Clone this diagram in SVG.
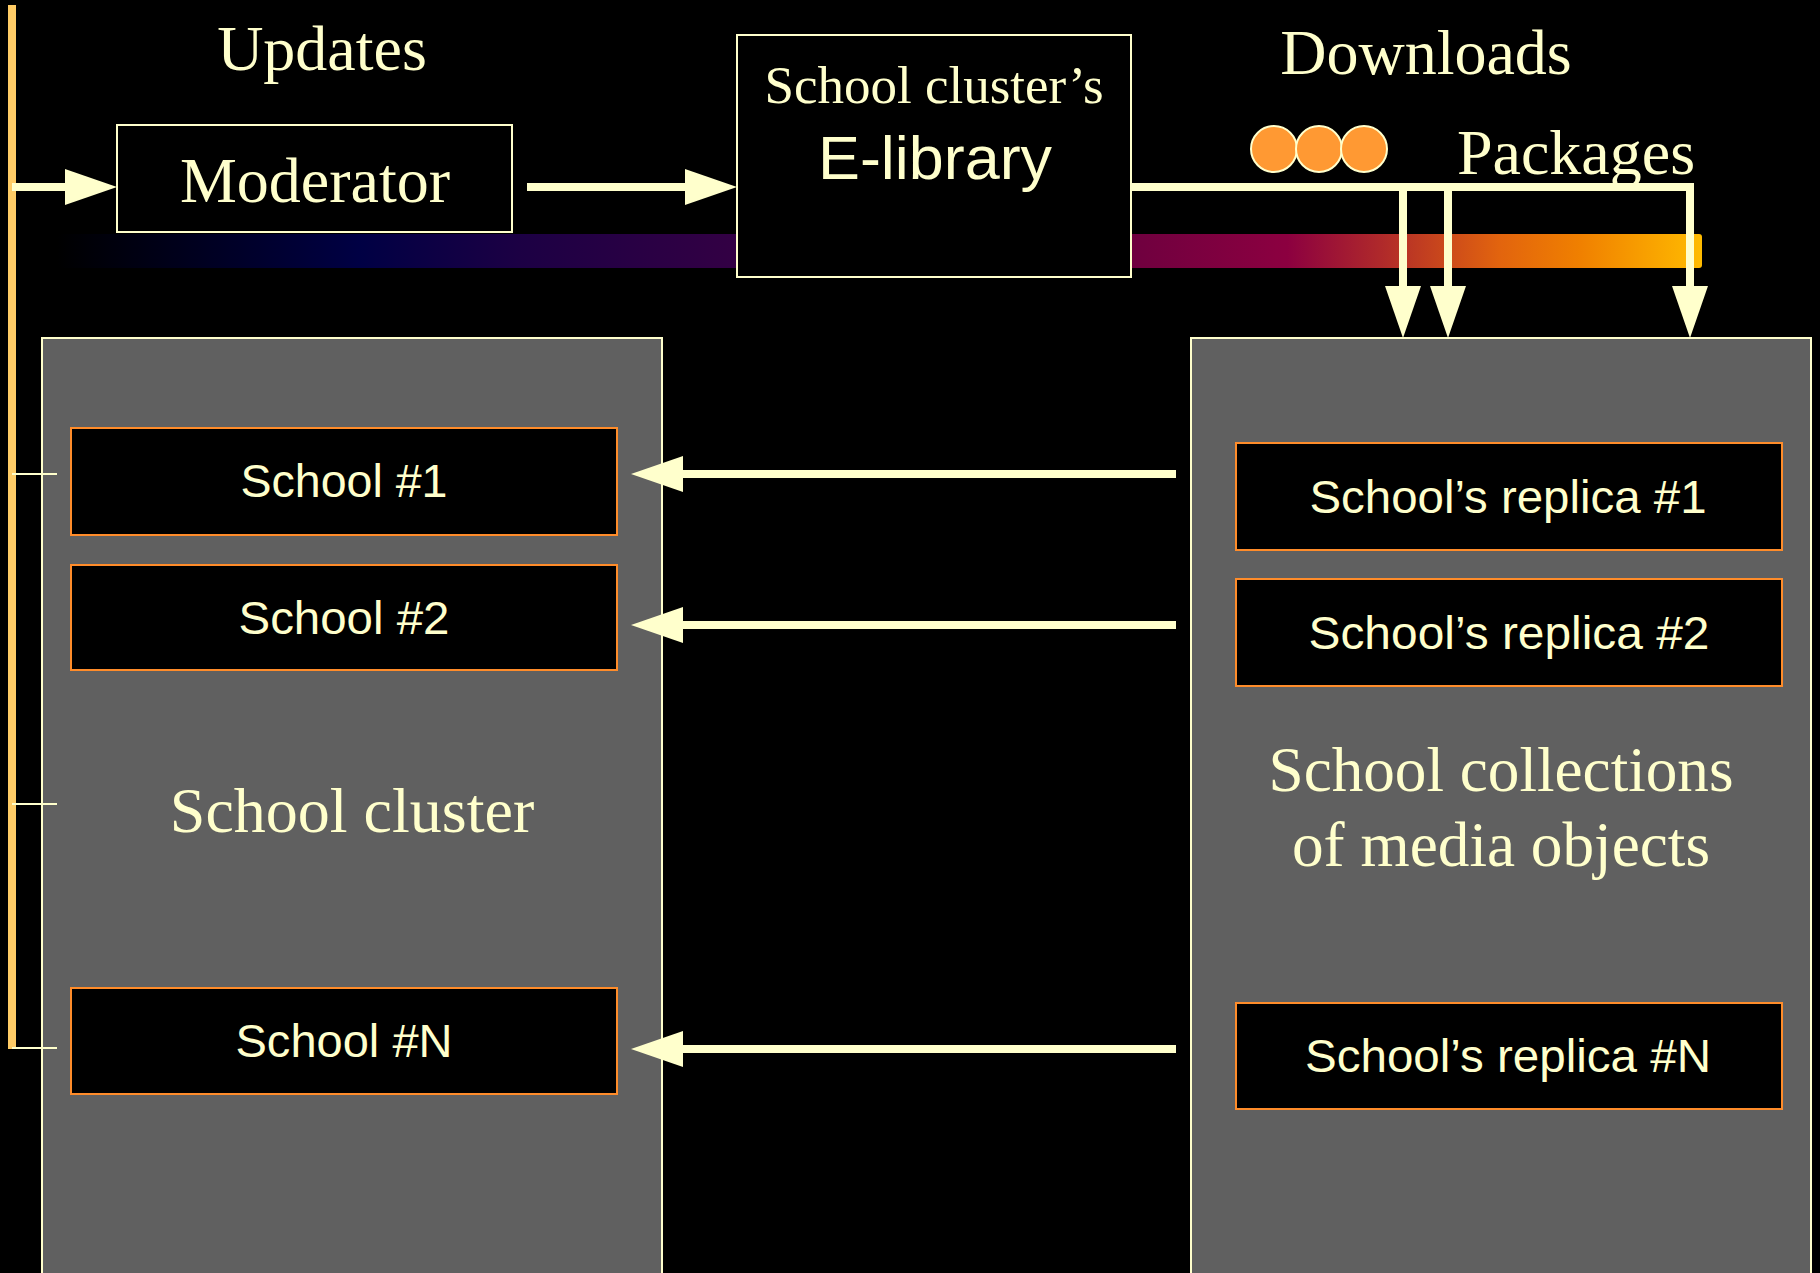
<svg xmlns="http://www.w3.org/2000/svg" width="1820" height="1273" viewBox="0 0 1820 1273">
  <defs>
    <linearGradient id="band" gradientUnits="userSpaceOnUse" x1="57" y1="0" x2="1702" y2="0">
      <stop offset="0" stop-color="#000000"/>
      <stop offset="0.184" stop-color="#000044"/>
      <stop offset="0.281" stop-color="#1c0044"/>
      <stop offset="0.412" stop-color="#330044"/>
      <stop offset="0.654" stop-color="#6f003f"/>
      <stop offset="0.748" stop-color="#8c0040"/>
      <stop offset="0.806" stop-color="#b02a2a"/>
      <stop offset="0.877" stop-color="#e2640e"/>
      <stop offset="0.926" stop-color="#f08000"/>
      <stop offset="1" stop-color="#ffbb00"/>
    </linearGradient>
    <marker id="arrow" viewBox="0 -18 52 36" refX="0" refY="0" markerWidth="52" markerHeight="36" markerUnits="userSpaceOnUse" orient="auto">
      <path d="M0,-18 L52,0 L0,18 Z" fill="#FFFFCC"/>
    </marker>
  </defs>
  <style>
    .bg { fill: #000000; }
    .serif { font-family: "Liberation Serif", "Times New Roman", serif; fill: #FFFFCC; }
    .sans { font-family: "Liberation Sans", Arial, sans-serif; fill: #FFFFCC; }
    .topbox { fill: #000000; stroke: #FFFFCC; stroke-width: 2; }
    .panel { fill: #606060; stroke: #FFFFCC; stroke-width: 2; }
    .item { fill: #000000; stroke: #FF8C2A; stroke-width: 2; }
    .conn { fill: none; stroke: #FFFFCC; stroke-width: 8; stroke-linejoin: miter; }
    .tick { fill: none; stroke: #FFFFCC; stroke-width: 2; }
  </style>
  <rect class="bg" x="0" y="0" width="1820" height="1273"/>

  <!-- colour band -->
  <rect x="57" y="234" width="1645" height="34" rx="3" fill="url(#band)"/>

  <text class="serif" x="322" y="70" font-size="64" text-anchor="middle">Updates</text>
  <text class="serif" x="1426" y="74" font-size="64" text-anchor="middle">Downloads</text>
  <text class="serif" x="1576" y="174" font-size="64" text-anchor="middle">Packages</text>

  <g id="packages-icon">
    <circle cx="1274" cy="149" r="23" fill="#FF9933" stroke="#FFFFCC" stroke-width="2"/>
    <circle cx="1319" cy="149" r="23" fill="#FF9933" stroke="#FFFFCC" stroke-width="2"/>
    <circle cx="1364" cy="149" r="23" fill="#FF9933" stroke="#FFFFCC" stroke-width="2"/>
  </g>

  <g id="panel-cluster">
    <rect class="panel" x="42" y="338" width="620" height="945"/>
    <text class="serif" x="352" y="832" font-size="64" text-anchor="middle">School cluster</text>
  </g>

  <g id="panel-collections">
    <rect class="panel" x="1191" y="338" width="620" height="945"/>
    <text class="serif" x="1501" y="791" font-size="64" text-anchor="middle" textLength="465" lengthAdjust="spacingAndGlyphs">School collections</text>
    <text class="serif" x="1501" y="866" font-size="64" text-anchor="middle" textLength="418" lengthAdjust="spacingAndGlyphs">of media objects</text>
  </g>

  <!-- left timeline bar -->
  <g id="timeline">
    <rect x="8" y="5" width="8" height="1044" fill="#FFCC66"/>
    <path class="tick" d="M12 474 H57 M12 804 H57 M12 1048 H57"/>
  </g>

  <g id="moderator">
    <rect class="topbox" x="117" y="125" width="395" height="107"/>
    <text class="serif" x="315" y="202" font-size="64" text-anchor="middle">Moderator</text>
  </g>

  <g id="elibrary">
    <rect class="topbox" x="737" y="35" width="394" height="242"/>
    <text class="serif" x="934" y="103" font-size="53" text-anchor="middle">School cluster’s</text>
    <text class="sans" x="935" y="179" font-size="62" text-anchor="middle" textLength="234" lengthAdjust="spacingAndGlyphs">E-library</text>
  </g>

  <g id="school-1">
    <rect class="item" x="71" y="428" width="546" height="107"/>
    <text class="sans" x="344" y="497" font-size="46" text-anchor="middle" textLength="207" lengthAdjust="spacingAndGlyphs">School #1</text>
  </g>
  <g id="school-2">
    <rect class="item" x="71" y="565" width="546" height="105"/>
    <text class="sans" x="344" y="634" font-size="46" text-anchor="middle" textLength="211" lengthAdjust="spacingAndGlyphs">School #2</text>
  </g>
  <g id="school-n">
    <rect class="item" x="71" y="988" width="546" height="106"/>
    <text class="sans" x="344" y="1057" font-size="46" text-anchor="middle" textLength="217" lengthAdjust="spacingAndGlyphs">School #N</text>
  </g>

  <g id="replica-1">
    <rect class="item" x="1236" y="443" width="546" height="107"/>
    <text class="sans" x="1508" y="513" font-size="47" text-anchor="middle" textLength="397" lengthAdjust="spacingAndGlyphs">School’s replica #1</text>
  </g>
  <g id="replica-2">
    <rect class="item" x="1236" y="579" width="546" height="107"/>
    <text class="sans" x="1509" y="649" font-size="47" text-anchor="middle" textLength="401" lengthAdjust="spacingAndGlyphs">School’s replica #2</text>
  </g>
  <g id="replica-n">
    <rect class="item" x="1236" y="1003" width="546" height="106"/>
    <text class="sans" x="1508" y="1072" font-size="47" text-anchor="middle" textLength="406" lengthAdjust="spacingAndGlyphs">School’s replica #N</text>
  </g>

  <g id="connectors">
    <path class="conn" d="M12 187 H65" marker-end="url(#arrow)"/>
    <path class="conn" d="M527 187 H685" marker-end="url(#arrow)"/>
    <path class="conn" d="M1131 187 H1690 V286" marker-end="url(#arrow)"/>
    <path class="conn" d="M1403 187 V286" marker-end="url(#arrow)"/>
    <path class="conn" d="M1448 187 V286" marker-end="url(#arrow)"/>
    <path class="conn" d="M1176 474 H683" marker-end="url(#arrow)"/>
    <path class="conn" d="M1176 625 H683" marker-end="url(#arrow)"/>
    <path class="conn" d="M1176 1049 H683" marker-end="url(#arrow)"/>
  </g>
</svg>
